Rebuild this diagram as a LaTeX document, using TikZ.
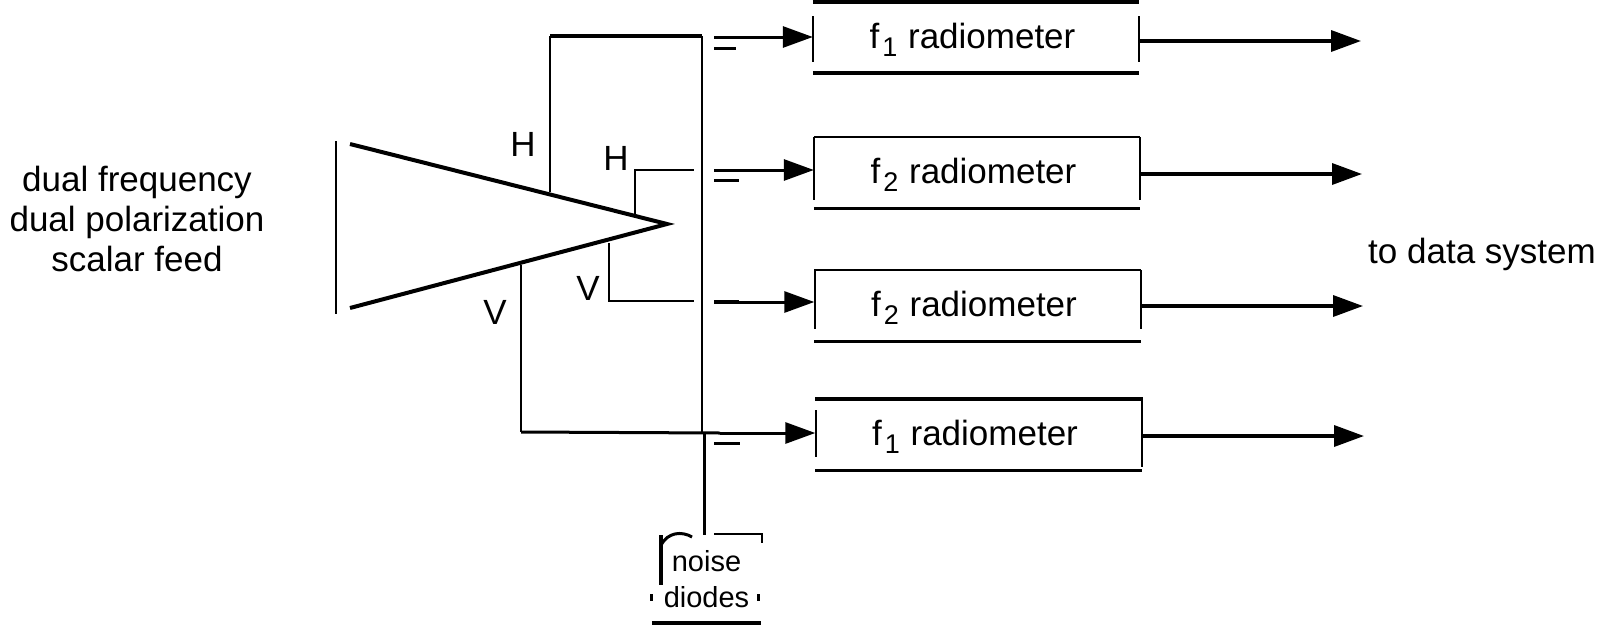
\documentclass[tikz,border=0pt]{standalone}
\usepackage{fontspec}
\setmainfont{Liberation Sans}
\usepackage{tikz}
\usetikzlibrary{arrows.meta,positioning}

\newcommand{\fband}[1]{f\kern3pt\raisebox{-8pt}{\fontsize{27}{30}\selectfont #1}\kern1pt\ radiometer\kern7pt\relax}

\begin{document}
\begin{tikzpicture}[
        x=1pt, y=-1pt,
        node distance=60pt,
        radio/.style={rectangle, minimum width=326pt, minimum height=71pt, inner sep=0pt,
                      text height=26pt, text depth=4pt,
                      font=\fontsize{35}{40}\selectfont},
        lbl/.style={inner sep=0pt, font=\fontsize{35}{40}\selectfont},
        noisebox/.style={rectangle, minimum width=109pt, minimum height=88pt, inner sep=0pt,
                      align=center, font=\fontsize{29}{36}\selectfont},
        wire/.style={line width=2.2pt},
        heavy/.style={line width=3.5pt},
        arrow/.style={-{Triangle[length=30pt, width=21pt]}, line width=3pt},
        outarrow/.style={-{Triangle[length=30pt, width=21pt]}, line width=3.5pt}
    ]
        \useasboundingbox (0,0) rectangle (1597,624);

        % radiometers
        \node[radio] (rone) at (976,37.5) {\fband{1}};
        \node[radio, below=64pt of rone, xshift=1pt] (rtwo) {\fband{2}};
        \node[radio, below=61.5pt of rtwo, xshift=0.5pt] (rthree) {\fband{2}};
        \node[radio, below=57.5pt of rthree, xshift=1pt] (rfour) {\fband{1}};
        \node[noisebox] (noise) at (706.5,579) {noise\\diodes};

        \node[lbl, align=center] (feed) at (137,219) {dual frequency\\dual polarization\\scalar feed};
        \node[lbl] (datasys) at (1482,254) {to data system};
        \node[lbl] (hone) at (523,144) {H};
        \node[lbl] (htwo) at (616,158) {H};
        \node[lbl] (vtwo) at (588,288) {V};
        \node[lbl] (vone) at (495,312) {V};

        % feed horn
        \coordinate (upper) at (350,144);
        \coordinate (tip) at (667,224);
        \coordinate (lower) at (350,308);
        \draw[wire] (336,141) -- (336,314);
        \draw[line width=4pt, line join=miter] (upper) -- (tip) -- (lower);

        % box edges
        \draw[line width=4pt] (rone.north west) -- (rone.north east);
        \draw[heavy] (rone.south west) -- (rone.south east);
        \draw[wire] (813,16) -- (813,62);
        \draw[wire] (1139,16) -- (1139,62);

        \draw[line width=2.5pt] (rtwo.north west) -- (rtwo.north east);
        \draw[line width=2.5pt] (rtwo.south west) -- (rtwo.south east);
        \draw[wire] (814,137) -- (814,200);
        \draw[wire] (1140,137) -- (1140,200);

        \draw[line width=2.5pt] (rthree.north west) -- (rthree.north east);
        \draw[heavy] (rthree.south west) -- (rthree.south east);
        \draw[wire] (815,270) -- (815,329);
        \draw[wire] (1141,270) -- (1141,329);

        \draw[heavy] (rfour.north west) -- (rfour.north east);
        \draw[heavy] (rfour.south west) -- (rfour.south east);
        \draw[wire] (816,410) -- (816,457);
        \draw[wire] (1142,397) -- (1142,467);

        % noise diodes box
        \draw[line width=4pt] (661,535) -- (661,585);
        \draw[line width=3pt] (661,545) .. controls (668,532) and (682,531) .. (692,537);
        \draw[line width=2.5pt] (714,534) -- (762,534) -- (762,543);
        \draw[line width=3pt] (651,594) -- (651,601);
        \draw[line width=3pt] (758,594) -- (758,601);
        \draw[heavy] (noise.south west) -- (noise.south east);

        % waveguides
        \coordinate (inone) at (714,37);
        \coordinate (intwo) at (714,170);
        \coordinate (inthree) at (714,302);
        \coordinate (infour) at (720,433);
        \coordinate (junction) at (704,432);

        \draw[wire] (550,192) -- (550,36);
        \draw[heavy] (550,36) -- (702,36);
        \draw[wire] (702,36) -- (702,432);
        \draw[wire] (635,214) -- (635,170) -- (694,170);
        \draw[wire] (609,243) -- (609,301) -- (694,301);
        \draw[wire] (521,265) -- (521,432);
        \draw[line width=3pt] (521,432) -- (infour);
        \draw[line width=3pt] (junction) -- (noise.north -| junction);

        \draw[line width=3pt] (714,48) -- (736,48);
        \draw[line width=3pt] (714,180.5) -- (739,180.5);
        \draw[line width=4pt] (714,302) -- (739,302);
        \draw[line width=3pt] (714,443) -- (740,443);

        \draw[arrow] (inone) -- (rone.west |- inone);
        \draw[arrow] (intwo) -- (rtwo.west |- intwo);
        \draw[arrow] (inthree) -- (rthree.west |- inthree);
        \draw[arrow] (infour) -- (rfour.west |- infour);

        % outputs
        \coordinate (outone) at (1361,41);
        \coordinate (outtwo) at (1362,174);
        \coordinate (outthree) at (1363,306);
        \coordinate (outfour) at (1364,436);
        \draw[outarrow] (rone.east |- outone) -- (outone);
        \draw[outarrow] (rtwo.east |- outtwo) -- (outtwo);
        \draw[outarrow] (rthree.east |- outthree) -- (outthree);
        \draw[outarrow] (rfour.east |- outfour) -- (outfour);
    \end{tikzpicture}
\end{document}
